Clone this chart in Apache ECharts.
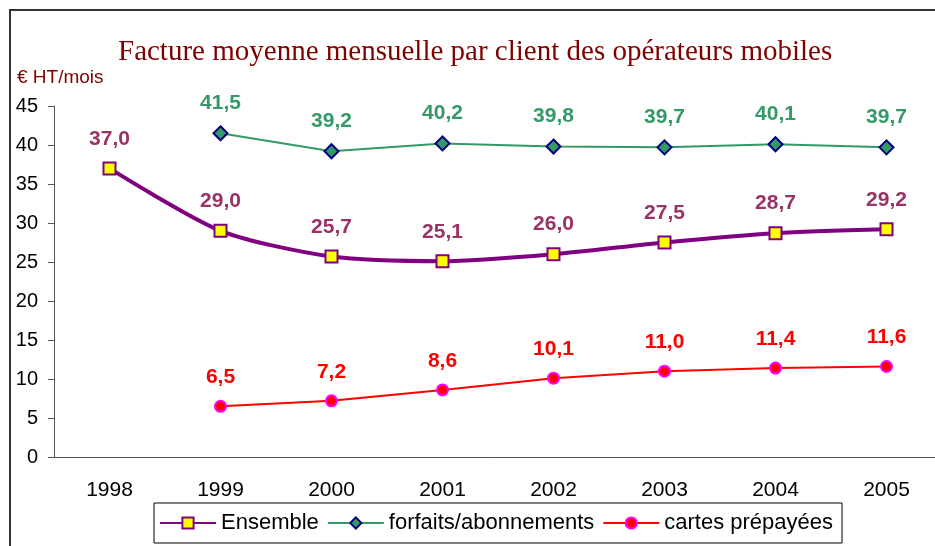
<!DOCTYPE html>
<html>
<head>
<meta charset="utf-8">
<script src="https://cdn.jsdelivr.net/npm/echarts@6/dist/echarts.min.js"></script>
<style>
html, body { margin: 0; padding: 0; background: #fff; }
#chart { width: 935px; height: 546px; }
</style>
</head>
<body>
<div id="chart"></div>
<script>
// données
var annees = ['1998', '1999', '2000', '2001', '2002', '2003', '2004', '2005'];
var ensemble = [37.0, 29.0, 25.7, 25.1, 26.0, 27.5, 28.7, 29.2];
var forfaits = [null, 41.5, 39.2, 40.2, 39.8, 39.7, 40.1, 39.7];
var cartes = [null, 6.5, 7.2, 8.6, 10.1, 11.0, 11.4, 11.6];

var chart = echarts.init(document.getElementById('chart'));

function virgule(p) {
    return p.value.toFixed(1).replace('.', ',');
}

function etiquette(couleur) {
    return {
        show: true,
        position: 'top',
        distance: 12,
        formatter: virgule,
        color: couleur,
        fontFamily: 'Liberation Sans, Arial',
        fontWeight: 'bold',
        fontSize: 21
    };
}

var option = {
    animation: false,
    title: [
        {
            text: 'Facture moyenne mensuelle par client des opérateurs mobiles',
            left: 113,
            top: 33,
            textStyle: {
                fontFamily: 'Liberation Serif, Times New Roman',
                fontWeight: 'normal',
                fontSize: 29,
                color: '#800000'
            }
        },
        {
            text: '€ HT/mois',
            left: 12,
            top: 63,
            textStyle: {
                fontFamily: 'Liberation Sans, Arial',
                fontWeight: 'normal',
                fontSize: 19,
                color: '#800000'
            }
        }
    ],
    graphic: [{
        type: 'rect',
        shape: { x: 10, y: 10, width: 1000, height: 600 },
        style: { fill: 'none', stroke: '#333', lineWidth: 2 },
        silent: true
    }],
    grid: {
        left: 54,
        top: 106,
        width: 888,
        bottom: 89,
        outerBoundsMode: 'none'
    },
    legend: {
        left: 154,
        top: 503,
        padding: [9, 9, 9, 5],
        borderColor: '#000',
        borderWidth: 1,
        itemGap: 8,
        itemWidth: 56,
        itemHeight: 14,
        textStyle: {
            fontFamily: 'Liberation Sans, Arial',
            fontSize: 22,
            color: '#000'
        },
        data: ['Ensemble', 'forfaits/abonnements', 'cartes prépayées']
    },
    xAxis: {
        type: 'category',
        data: annees,
        boundaryGap: true,
        axisLine: { lineStyle: { color: '#555', width: 1 } },
        axisTick: { length: 5, lineStyle: { color: '#555' } },
        axisLabel: {
            margin: 23,
            color: '#000',
            fontFamily: 'Liberation Sans, Arial',
            fontSize: 21
        }
    },
    yAxis: {
        type: 'value',
        min: 0,
        max: 45,
        interval: 5,
        splitLine: { show: false },
        axisLine: { show: true, lineStyle: { color: '#555', width: 1 } },
        axisTick: { show: true, length: 6, lineStyle: { color: '#555' } },
        axisLabel: {
            margin: 16,
            color: '#000',
            fontFamily: 'Liberation Sans, Arial',
            fontSize: 20
        }
    },
    series: [
        {
            name: 'Ensemble',
            type: 'line',
            data: ensemble,
            smooth: 0.25,
            symbol: 'rect',
            symbolSize: 12,
            lineStyle: { color: '#800080', width: 4 },
            itemStyle: { color: '#FFFF00', borderColor: '#800080', borderWidth: 2 },
            label: etiquette('#993366'),
            z: 3
        },
        {
            name: 'forfaits/abonnements',
            type: 'line',
            data: forfaits,
            symbol: 'diamond',
            symbolSize: 14,
            lineStyle: { color: '#339966', width: 2 },
            itemStyle: { color: '#339966', borderColor: '#000080', borderWidth: 2 },
            label: etiquette('#339966')
        },
        {
            name: 'cartes prépayées',
            type: 'line',
            data: cartes,
            symbol: 'circle',
            symbolSize: 11,
            lineStyle: { color: '#FF0000', width: 2 },
            itemStyle: { color: '#FF0000', borderColor: '#FF00FF', borderWidth: 2 },
            label: etiquette('#FF0000')
        }
    ]
};

chart.setOption(option);
</script>
</body>
</html>
